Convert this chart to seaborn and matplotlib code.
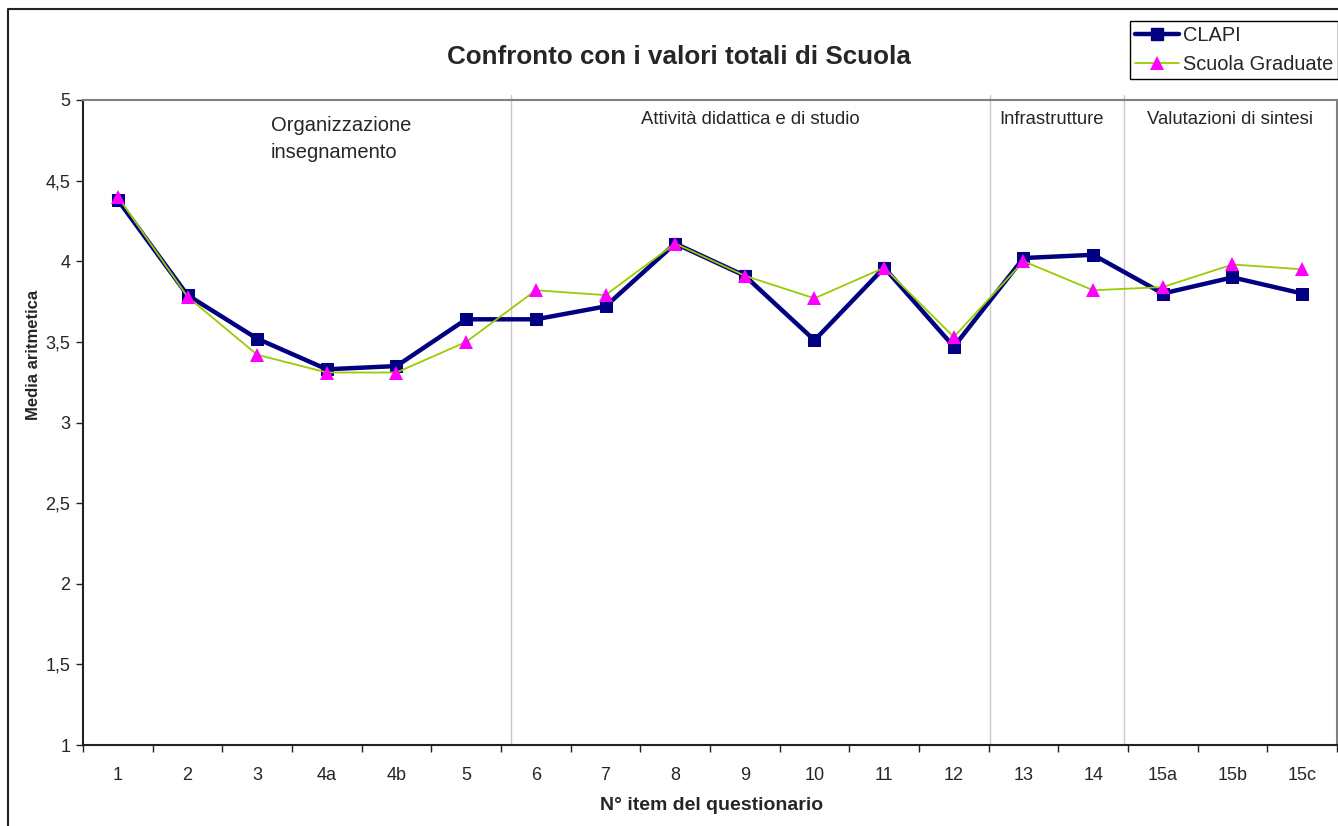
import numpy as np
import pandas as pd
import seaborn as sns
import matplotlib.pyplot as plt
from matplotlib.lines import Line2D
from matplotlib.ticker import FuncFormatter, FixedLocator

items = ['1', '2', '3', '4a', '4b', '5', '6', '7', '8', '9', '10', '11',
         '12', '13', '14', '15a', '15b', '15c']
clapi = [4.38, 3.79, 3.52, 3.33, 3.35, 3.64, 3.64, 3.72, 4.11, 3.91, 3.51,
         3.96, 3.47, 4.02, 4.04, 3.80, 3.90, 3.80]
scuola = [4.40, 3.78, 3.42, 3.31, 3.31, 3.50, 3.82, 3.79, 4.11, 3.91, 3.77,
          3.96, 3.53, 4.00, 3.82, 3.84, 3.98, 3.95]
sections = ['Organizzazione\ninsegnamento', 'Attività didattica e di studio',
            'Infrastrutture', 'Valutazioni di sintesi']
section_pos = [2.2, 9.08, 13.4, 15.97]
separators = [5.64, 12.52, 14.44]

sns.set_style('white')
plt.rcParams['font.family'] = ['Liberation Sans', 'DejaVu Sans']

df = pd.DataFrame({'pos': np.arange(len(items)), 'item': items,
                   'CLAPI': clapi, 'Scuola Graduate': scuola})

fig = plt.figure(figsize=(13.38, 8.26), dpi=100)
ax = fig.add_axes([83 / 1338, 81 / 826, 1254 / 1338, 645 / 826])

sns.lineplot(data=df, x='pos', y='Scuola Graduate', ax=ax, color='#99CC00',
             linewidth=1.3, marker='^', markersize=10, markerfacecolor='#FF00FF',
             markeredgecolor='#FF00FF', markeredgewidth=0, sort=False, zorder=3)
sns.lineplot(data=df, x='pos', y='CLAPI', ax=ax, color='#000080',
             linewidth=3.2, marker='s', markersize=9, markerfacecolor='#000080',
             markeredgecolor='#000080', sort=False, zorder=2)

for s in separators:
    ax.axvline(s, ymin=0, ymax=1.008, color='#C8C8C8', lw=1, clip_on=False, zorder=1)

ax.text(section_pos[0], 4.9, sections[0], ha='left', va='top', fontsize=14.5,
        linespacing=1.55)
for x, lab in zip(section_pos[1:], sections[1:]):
    ax.text(x, 4.932, lab, ha='center', va='top', fontsize=13.3)

ax.set_xlim(-0.5, len(items) - 0.5)
ax.set_ylim(1, 5)
ax.set_xticks(np.arange(len(items)))
ax.set_xticklabels(items)
ax.xaxis.set_minor_locator(FixedLocator(np.arange(-0.5, len(items), 1)))
ax.tick_params(axis='x', which='major', length=0, pad=16, labelsize=13)
ax.tick_params(axis='x', which='minor', length=5, width=1, color='#222222',
               direction='out', bottom=True)
ax.set_yticks(np.arange(1, 5.01, 0.5))
ax.yaxis.set_major_formatter(FuncFormatter(lambda v, p: f'{v:g}'.replace('.', ',')))
ax.tick_params(axis='y', length=5, width=1, color='#222222', direction='out',
               left=True, labelsize=13, pad=4)
ax.set_xlabel('')
ax.set_ylabel('')

for side in ['left', 'bottom']:
    ax.spines[side].set_color('#222222')
    ax.spines[side].set_linewidth(1.5)
for side in ['top', 'right']:
    ax.spines[side].set_color('#808080')
    ax.spines[side].set_linewidth(1.5)

fig.text(679 / 1338, 1 - 57 / 826, 'Confronto con i valori totali di Scuola',
         ha='center', va='center', fontsize=18.7, fontweight='bold')
fig.text(712 / 1338, 1 - 806 / 826, 'N° item del questionario',
         ha='center', va='center', fontsize=14, fontweight='bold')
fig.text(33 / 1338, 1 - 355 / 826, 'Media aritmetica', ha='center', va='center',
         rotation=90, fontsize=12, fontweight='bold')

# outer chart frame (left and top edges visible)
fig.add_artist(Line2D([8 / 1338, 8 / 1338, 1.0], [0.0, 1 - 9 / 826, 1 - 9 / 826],
                      color='#222222', lw=1.5, transform=fig.transFigure))

handles = [Line2D([], [], color='#000080', lw=3.2, marker='s', markersize=9),
           Line2D([], [], color='#99CC00', lw=1.3, marker='^', markersize=10,
                  markerfacecolor='#FF00FF', markeredgewidth=0)]
fig.legend(handles, ['CLAPI', 'Scuola Graduate'], loc='upper right',
           bbox_to_anchor=(1.0, 1 - 21 / 826), fontsize=14.4, frameon=True,
           fancybox=False, edgecolor='black', framealpha=1, handlelength=2.2,
           borderpad=0.25, labelspacing=0.5, handletextpad=0.2, borderaxespad=0)

fig.savefig('out.png', dpi=100)
